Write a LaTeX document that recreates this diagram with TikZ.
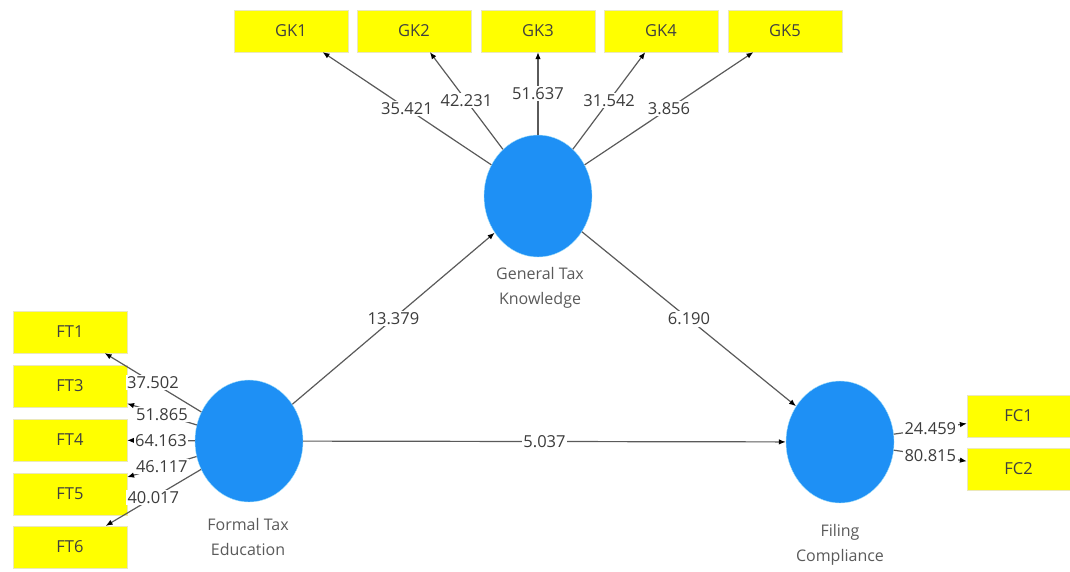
\documentclass[tikz,border=0pt]{standalone}
\usepackage{fontspec}
\setmainfont{Open Sans}
\usetikzlibrary{arrows.meta,shapes.geometric}
\definecolor{lvblue}{RGB}{30,144,245}
\definecolor{mvyellow}{RGB}{255,255,0}
\definecolor{pathgrey}{RGB}{90,90,90}
\definecolor{numgrey}{RGB}{60,60,60}
\definecolor{capgrey}{RGB}{90,90,90}
\tikzset{
  px/.style={x=1pt, y=-1pt},
  mv/.style={rectangle, fill=mvyellow, draw=yellow!70!black!30, very thin,
    minimum width=114pt, minimum height=42pt, inner sep=0pt,
    text=black!75, font=\fontsize{16.5}{16.5}\selectfont},            % indicator box
  lv/.style={ellipse, fill=lvblue, draw=cyan!35, thin,
    minimum width=108pt, minimum height=122pt, inner sep=0pt},         % construct
  lvcap/.style={align=center, text=capgrey, font=\fontsize{16}{25}\selectfont},
  lvarrow/.style={draw=pathgrey, line width=1.2pt,
    -{Latex[length=7pt,width=5.5pt,color=black]}},
  tval/.style={midway, fill=white, inner sep=1.5pt, text=numgrey,
    font=\fontsize{16.5}{16.5}\selectfont},                            % t value on a path
}

\begin{document}
\begin{tikzpicture}[px]
  \useasboundingbox (0,0) rectangle (1070,571);

  % --- constructs ---
  \node[lv] (gtk) at (538,196) {};
  \node[lv] (fte) at (249,441) {};
  \node[lv] (fc)  at (840,442) {};
  \node[lvcap] (gtkcap) at (540,288) {General Tax\\Knowledge};
  \node[lvcap] (ftecap) at (248,537) {Formal Tax\\Education};
  \node[lvcap] (fccap)  at (840,545) {Filing\\Compliance};

  % --- indicators ---
  \foreach \i/\x in {1/291,2/414,3/538,4/661,5/785}
    \node[mv] (gk\i) at (\x,31) {GK\i};
  \foreach \i/\y in {1/332,3/386,4/440,5/494,6/547}
    \node[mv] (ft\i) at (70,\y) {FT\i};
  \node[mv, minimum width=103pt] (fc1) at (1018.5,416) {FC1};
  \node[mv, minimum width=103pt] (fc2) at (1018.5,469) {FC2};

  % --- outer loadings ---
  \foreach \i/\v in {1/35.421,2/42.231,3/51.637,4/31.542,5/3.856}
    \draw[lvarrow] (gtk) -- node[tval]{\v} (gk\i);
  \foreach \i/\v in {1/37.502,3/51.865,4/64.163,5/46.117,6/40.017}
    \draw[lvarrow] (fte) -- node[tval]{\v} (ft\i);
  \draw[lvarrow] (fc) -- node[tval]{24.459} (fc1);
  \draw[lvarrow] (fc) -- node[tval]{80.815} (fc2);

  % --- inner model ---
  \draw[lvarrow] (fte) -- node[tval]{13.379} (gtk);
  \draw[lvarrow] (gtk) -- node[tval]{6.190} (fc);
  \draw[lvarrow] (fte) -- node[tval]{5.037} (fc);
\end{tikzpicture}
\end{document}
